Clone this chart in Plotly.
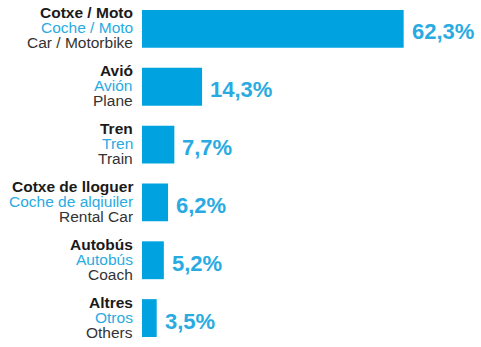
import plotly.graph_objects as go

# Transport mode shares (%)
catalan = ["Cotxe / Moto", "Avió", "Tren", "Cotxe de lloguer", "Autobús", "Altres"]
spanish = ["Coche / Moto", "Avión", "Tren", "Coche de alqiuiler", "Autobús", "Otros"]
english = ["Car / Motorbike", "Plane", "Train", "Rental Car", "Coach", "Others"]
shares = [62.3, 14.3, 7.7, 6.2, 5.2, 3.5]

BAR_BLUE = "#00A3E0"
TEXT_BLUE = "#29ABE2"
FONT = "Liberation Sans, Arial, sans-serif"

positions = list(range(len(shares)))

fig = go.Figure(
    go.Bar(
        x=shares,
        y=positions,
        orientation="h",
        marker=dict(color=BAR_BLUE, line=dict(width=0)),
        width=0.655,
        hoverinfo="skip",
    )
)

annotations = []
for i, (ca, es, en, v) in enumerate(zip(catalan, spanish, english, shares)):
    # three-language category label, right-aligned next to the axis
    for text, shift, color, bold in (
        (ca, 16, "#1a1a1a", True),
        (es, 1, TEXT_BLUE, False),
        (en, -14, "#333333", False),
    ):
        annotations.append(dict(
            x=0, y=i, xref="x", yref="y",
            text=f"<b>{text}</b>" if bold else text,
            showarrow=False, xanchor="right", yanchor="middle",
            borderpad=0,
            xshift=-8, yshift=shift,
            font=dict(family=FONT, size=15.5, color=color),
        ))
    # value label at the end of the bar
    annotations.append(dict(
        x=v, y=i, xref="x", yref="y",
        text="<b>" + f"{v:.1f}".replace(".", ",") + "%</b>",
        showarrow=False, xanchor="left", yanchor="middle",
        xshift=6, yshift=-3,
        font=dict(family=FONT, size=22, color=TEXT_BLUE),
    ))

fig.update_layout(
    width=481, height=347,
    margin=dict(l=142, r=0, t=0, b=0),
    paper_bgcolor="white", plot_bgcolor="white",
    showlegend=False,
    xaxis=dict(range=[0, 339 / 4.2], visible=False, fixedrange=True),
    yaxis=dict(range=[5.5, -0.5], visible=False, fixedrange=True),
    annotations=annotations,
)

fig.write_html("out.html", config={"displayModeBar": False})
